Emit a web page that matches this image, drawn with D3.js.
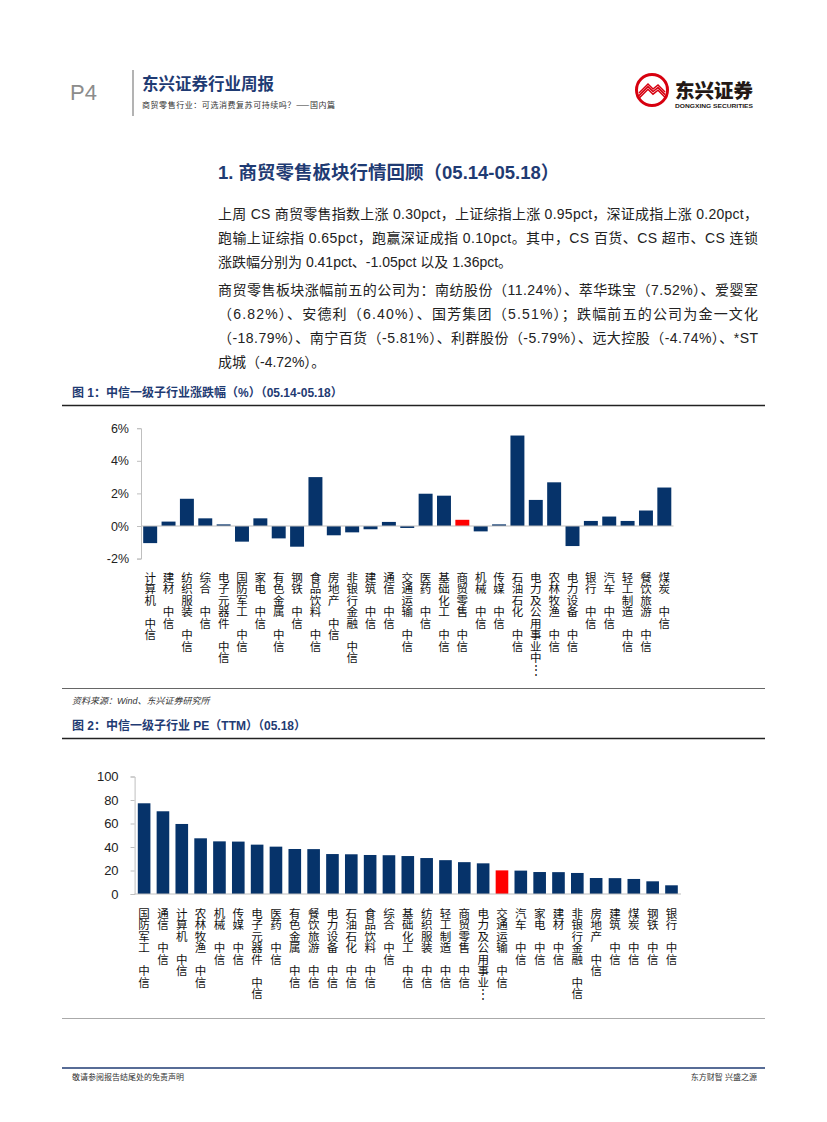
<!DOCTYPE html>
<html><head><meta charset="utf-8">
<script src="https://cdn.jsdelivr.net/npm/d3@7/dist/d3.min.js"></script>
<style>
html,body{margin:0;padding:0;background:#fff;}
svg{display:block;}
text{font-family:"Liberation Sans","Noto Sans CJK SC",sans-serif;}
</style></head>
<body>
<svg id="page" width="827" height="1122"></svg>
<script>
// ---------------- data ----------------
const chg_categories = ["计算机 中信","建材 中信","纺织服装 中信","综合 中信","电子元器件 中信","国防军工 中信","家电 中信","有色金属 中信","钢铁 中信","食品饮料 中信","房地产 中信","非银行金融 中信","建筑 中信","通信 中信","交通运输 中信","医药 中信","基础化工 中信","商贸零售 中信","机械 中信","传媒 中信","石油石化 中信","电力及公用事业 中信","农林牧渔 中信","电力设备 中信","银行 中信","汽车 中信","轻工制造 中信","餐饮旅游 中信","煤炭 中信"];
const chg_values = [-1.05,0.27,1.67,0.47,0.10,-0.96,0.47,-0.76,-1.27,3.00,-0.57,-0.39,-0.20,0.25,-0.12,1.98,1.86,0.38,-0.33,0.10,5.55,1.60,2.68,-1.23,0.31,0.58,0.31,0.95,2.36];
const chg_highlight = "商贸零售 中信";
const chg_ticks = [-2,0,2,4,6];

const pe_categories = ["国防军工 中信","通信 中信","计算机 中信","农林牧渔 中信","机械 中信","传媒 中信","电子元器件 中信","医药 中信","有色金属 中信","餐饮旅游 中信","电力设备 中信","石油石化 中信","食品饮料 中信","综合 中信","基础化工 中信","纺织服装 中信","轻工制造 中信","商贸零售 中信","电力及公用事业 中信","交通运输 中信","汽车 中信","家电 中信","建材 中信","非银行金融 中信","房地产 中信","建筑 中信","煤炭 中信","钢铁 中信","银行 中信"];
const pe_values = [77.2,70.4,59.6,47.4,44.8,44.6,42.0,40.3,38.3,38.2,34.0,33.8,33.2,33.0,32.3,30.6,28.8,27.1,26.1,20.1,19.9,18.7,18.6,17.9,13.6,13.5,12.8,10.8,7.4];
const pe_highlight = "交通运输 中信";
const pe_ticks = [0,20,40,60,80,100];

const para1 = ["上周 CS 商贸零售指数上涨 0.30pct，上证综指上涨 0.95pct，深证成指上涨 0.20pct，",
               "跑输上证综指 0.65pct，跑赢深证成指 0.10pct。其中，CS 百货、CS 超市、CS 连锁",
               "涨跌幅分别为 0.41pct、-1.05pct 以及 1.36pct。"];
const para2 = ["商贸零售板块涨幅前五的公司为：南纺股份（11.24%）、萃华珠宝（7.52%）、爱婴室",
               "（6.82%）、安德利（6.40%）、国芳集团（5.51%）；跌幅前五的公司为金一文化",
               "（-18.79%）、南宁百货（-5.81%）、利群股份（-5.79%）、远大控股（-4.74%）、*ST",
               "成城（-4.72%）。"];

// ---------------- drawing ----------------
const NAVY = "#1F3B73", BAR = "#06336A", RED = "#FF0000", AXIS = "#BFBFBF";
const svg = d3.select("#page");
svg.append("rect").attr("width",827).attr("height",1122).attr("fill","#fff");

// header
svg.append("text").attr("x",70).attr("y",100).attr("font-size",22).attr("fill","#8c8c8c").text("P4");
svg.append("line").attr("x1",133).attr("x2",133).attr("y1",70).attr("y2",116).attr("stroke","#9a9a9a").attr("stroke-width",1.5);
svg.append("text").attr("x",142).attr("y",90).attr("font-size",16.5).attr("font-weight","bold").attr("fill",NAVY)
  .style("font-family","'Noto Sans CJK SC'").text("东兴证券行业周报");
svg.append("text").attr("x",142).attr("y",108).attr("font-size",8).attr("fill","#333")
  .attr("textLength",193).attr("lengthAdjust","spacing").style("font-family","'Noto Sans CJK SC'")
  .text("商贸零售行业：可选消费复苏可持续吗？——国内篇");
// logo
const logo = svg.append("g").attr("transform","translate(652,90)");
logo.append("circle").attr("r",15.5).attr("fill","#fff").attr("stroke","#D7000F").attr("stroke-width",3);
[0,2.6,5.2].forEach(o=>{
  logo.append("polyline").attr("points",`-13,${3+o} -4,${-6+o} 1,${-1+o} 6,${-5+o} 13,${2+o}`)
    .attr("fill","none").attr("stroke","#D7000F").attr("stroke-width",1.5);
});
svg.append("text").attr("x",675).attr("y",98).attr("font-size",19.5).attr("font-weight","900").attr("fill","#231815")
  .attr("textLength",78).attr("lengthAdjust","spacing").style("font-family","'Noto Sans CJK SC'").text("东兴证券");
svg.append("text").attr("x",675).attr("y",107.5).attr("font-size",6).attr("font-weight","bold").attr("fill","#231815")
  .attr("textLength",78).attr("lengthAdjust","spacingAndGlyphs").text("DONGXING SECURITIES");

// heading
svg.append("text").attr("x",218).attr("y",179).attr("font-size",18.5).attr("font-weight","bold").attr("fill",NAVY)
  .text("1. 商贸零售板块行情回顾（05.14-05.18）");

function para(lines, y0){
  lines.forEach((s,i)=>{
    const t = svg.append("text").attr("x",218).attr("y",y0+i*24).attr("font-size",14).attr("fill","#222").text(s);
    if(i<lines.length-1) t.attr("textLength",540).attr("lengthAdjust","spacing");
  });
}
para(para1,219);
para(para2,295);

// chart title helper
function chartTitle(txt, y, lineY){
  svg.append("text").attr("x",72).attr("y",y).attr("font-size",12).attr("font-weight","bold").attr("fill",NAVY).text(txt);
  svg.append("line").attr("x1",62).attr("x2",765).attr("y1",lineY).attr("y2",lineY).attr("stroke","#222").attr("stroke-width",1.5);
}

// stacked vertical category labels, one character per position
function vLabels(g, cats, x, y0, pitch, maxPos){
  cats.forEach(c=>{
    let chars = c.split("");
    if(chars.length>maxPos){
      chars = c.replace(/ /g,"").split("").slice(0,maxPos-1);
      chars.push("⋮");
    }
    const cx = x(c)+x.bandwidth()/2;
    chars.forEach((ch,i)=>{
      if(ch===" ") return;
      g.append("text").attr("x",cx).attr("y",y0+i*pitch).attr("text-anchor","middle")
        .attr("font-size",11.5).attr("fill","#111").style("font-family","'Noto Sans CJK SC'").text(ch);
    });
  });
}

// ---- chart 1 ----
chartTitle("图 1：中信一级子行业涨跌幅（%）（05.14-05.18）",397,405.5);
{
  const x = d3.scaleBand().domain(chg_categories).range([141,673.5]).paddingInner(0.24).paddingOuter(0.12);
  const y = d3.scaleLinear().domain([-2,6]).range([558.6,428.2]);
  const g = svg.append("g");
  g.selectAll("rect.bar").data(chg_categories).join("rect")
    .attr("x",d=>x(d)).attr("width",x.bandwidth())
    .attr("y",(d,i)=>y(Math.max(0,chg_values[i])))
    .attr("height",(d,i)=>Math.abs(y(chg_values[i])-y(0)))
    .attr("fill",d=>d===chg_highlight?RED:BAR);
  const ya = g.append("g").attr("transform","translate(141,0)")
    .call(d3.axisLeft(y).tickValues(chg_ticks).tickSize(4).tickPadding(8).tickFormat(d=>d+"%"));
  ya.select(".domain").attr("stroke",AXIS);
  ya.selectAll(".tick line").attr("stroke",AXIS);
  ya.selectAll("text").attr("font-size",12.5).attr("fill","#222").style("font-family","'Liberation Sans'");
  g.append("line").attr("x1",141).attr("x2",673.5).attr("y1",y(0)).attr("y2",y(0)).attr("stroke",AXIS);
  vLabels(g, chg_categories, x, 581.5, 11.5, 9);
}
svg.append("line").attr("x1",62).attr("x2",765).attr("y1",688.5).attr("y2",688.5).attr("stroke","#666").attr("stroke-width",1);
svg.append("text").attr("x",72).attr("y",704).attr("font-size",9).attr("font-style","italic").attr("fill","#333")
  .text("资料来源：Wind、东兴证券研究所");

// ---- chart 2 ----
chartTitle("图 2：中信一级子行业 PE（TTM）（05.18）",730,738.5);
{
  const x = d3.scaleBand().domain(pe_categories).range([134.6,681]).paddingInner(0.33).paddingOuter(0.17);
  const y = d3.scaleLinear().domain([0,100]).range([894,776.5]);
  const g = svg.append("g");
  g.selectAll("rect.bar").data(pe_categories).join("rect")
    .attr("x",d=>x(d)).attr("width",x.bandwidth())
    .attr("y",(d,i)=>y(pe_values[i]))
    .attr("height",(d,i)=>y(0)-y(pe_values[i]))
    .attr("fill",d=>d===pe_highlight?RED:BAR);
  const ya = g.append("g").attr("transform","translate(134.6,0)")
    .call(d3.axisLeft(y).tickValues(pe_ticks).tickSize(4).tickPadding(12));
  ya.select(".domain").attr("stroke",AXIS);
  ya.selectAll(".tick line").attr("stroke",AXIS);
  ya.selectAll("text").attr("font-size",13).attr("fill","#222").style("font-family","'Liberation Sans'");
  g.append("line").attr("x1",134.6).attr("x2",681).attr("y1",y(0)).attr("y2",y(0)).attr("stroke",AXIS);
  vLabels(g, pe_categories, x, 917.5, 11.5, 8);
}
svg.append("line").attr("x1",62).attr("x2",765).attr("y1",1018.5).attr("y2",1018.5).attr("stroke","#aaa").attr("stroke-width",1);

// footer
svg.append("line").attr("x1",62).attr("x2",765).attr("y1",1068).attr("y2",1068).attr("stroke",NAVY).attr("stroke-width",1.5);
svg.append("text").attr("x",72).attr("y",1080).attr("font-size",8).attr("fill","#333").text("敬请参阅报告结尾处的免责声明");
svg.append("text").attr("x",757).attr("y",1080).attr("text-anchor","end").attr("font-size",8).attr("fill","#333").text("东方财智 兴盛之源");
</script>
</body></html>
